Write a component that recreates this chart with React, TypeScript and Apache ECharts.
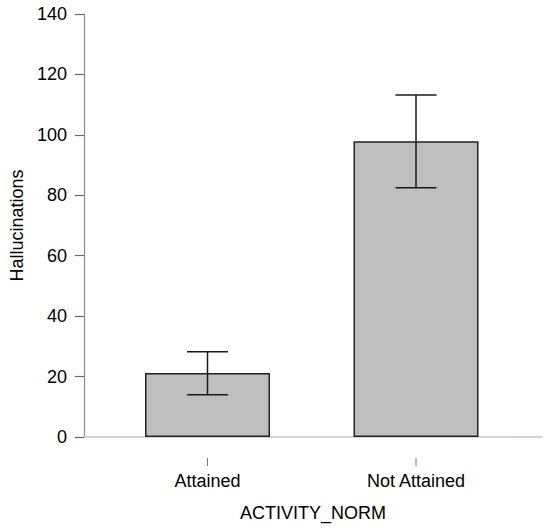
import React, { useEffect, useRef } from "react";
import * as echarts from "echarts";

const categories = ["Attained", "Not Attained"];
const means = [21.2, 97.9];
const lowerCI = [14.0, 82.5];
const upperCI = [28.2, 113.2];
const yTicks = { min: 0, max: 140, interval: 20 };

const FONT = "'Liberation Sans', Arial, sans-serif";

export default function App() {
  const ref = useRef<HTMLDivElement>(null);
  useEffect(() => {
    if (!ref.current) return;
    const chart = echarts.init(ref.current, undefined, { renderer: "svg" });
    const errData = categories.map((_, i) => [i, lowerCI[i], upperCI[i]]);
    const tickData = categories.map((_, i) => [i, yTicks.min]);
    chart.setOption({
      animation: false,
      backgroundColor: "#ffffff",
      textStyle: { fontFamily: FONT },
      grid: [
        { left: 82, top: 14, width: 460, height: 423 },
        { left: 103.25, top: 14, width: 417, height: 423 },
      ],
      xAxis: [
        {
          gridIndex: 0,
          type: "value",
          min: 0,
          max: 1,
          axisLine: { show: true, lineStyle: { color: "#c8c8c8", width: 1.5 } },
          axisTick: { show: false },
          axisLabel: { show: false },
          splitLine: { show: false },
          name: "ACTIVITY_NORM",
          nameLocation: "middle",
          nameGap: 67,
          nameTextStyle: { fontSize: 18, color: "#000", fontFamily: FONT },
        },
        {
          gridIndex: 1,
          type: "category",
          data: categories,
          offset: 21,
          axisLine: { show: false },
          axisTick: { show: false },
          axisLabel: { fontSize: 18, color: "#000", margin: 14, fontFamily: FONT },
          splitLine: { show: false },
        },
      ],
      yAxis: [
        {
          gridIndex: 0,
          type: "value",
          min: yTicks.min,
          max: yTicks.max,
          interval: yTicks.interval,
          axisLine: { show: true, lineStyle: { color: "#8a8a8a", width: 1.2 } },
          axisTick: { show: true, length: 9, lineStyle: { color: "#666", width: 1.2 } },
          axisLabel: { fontSize: 18, color: "#000", margin: 17, fontFamily: FONT },
          splitLine: { show: false },
          name: "Hallucinations",
          nameLocation: "middle",
          nameRotate: 90,
          nameGap: 55,
          nameTextStyle: { fontSize: 18, color: "#000", fontFamily: FONT },
        },
        {
          gridIndex: 1,
          type: "value",
          min: yTicks.min,
          max: yTicks.max,
          interval: yTicks.interval,
          show: false,
          splitLine: { show: false },
        },
      ],
      series: [
        {
          type: "bar",
          xAxisIndex: 1,
          yAxisIndex: 1,
          data: means,
          barWidth: 125,
          itemStyle: { color: "#bfbfbf", borderColor: "#222", borderWidth: 1.5 },
          z: 2,
        },
        {
          type: "custom",
          xAxisIndex: 1,
          yAxisIndex: 1,
          data: errData,
          z: 3,
          renderItem: (params: any, api: any) => {
            const x = api.value(0);
            const lo = api.coord([x, api.value(1)]);
            const hi = api.coord([x, api.value(2)]);
            const half = 20.5;
            const style = { stroke: "#1a1a1a", lineWidth: 1.5 };
            return {
              type: "group",
              children: [
                { type: "line", shape: { x1: lo[0], y1: lo[1], x2: hi[0], y2: hi[1] }, style },
                { type: "line", shape: { x1: hi[0] - half, y1: hi[1], x2: hi[0] + half, y2: hi[1] }, style },
                { type: "line", shape: { x1: lo[0] - half, y1: lo[1], x2: lo[0] + half, y2: lo[1] }, style },
              ],
            };
          },
        },
        {
          type: "custom",
          xAxisIndex: 1,
          yAxisIndex: 1,
          data: tickData,
          clip: false,
          silent: true,
          renderItem: (params: any, api: any) => {
            const p = api.coord([api.value(0), api.value(1)]);
            return {
              type: "line",
              shape: { x1: p[0], y1: p[1] + 21, x2: p[0], y2: p[1] + 29 },
              style: { stroke: "#777", lineWidth: 1 },
            };
          },
        },
      ],
    });
    return () => chart.dispose();
  }, []);
  return (
    <div
      ref={ref}
      style={{ position: "absolute", left: 0, top: 0, width: 550, height: 529 }}
    />
  );
}
